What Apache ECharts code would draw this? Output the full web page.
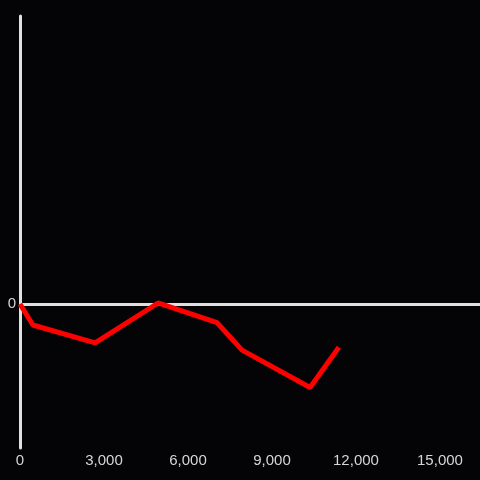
<!DOCTYPE html>
<html>
<head>
<meta charset="utf-8">
<script src="https://cdn.jsdelivr.net/npm/echarts@6/dist/echarts.min.js"></script>
<style>
  html, body { margin: 0; padding: 0; background: #040305; }
  #chart { width: 480px; height: 480px; }
</style>
</head>
<body>
<div id="chart"></div>
<script>
  // values
  var xValues = [0, 460, 2680, 4930, 7040, 7930, 10360, 11390];
  var yValues = [0, -0.146, -0.27, 0.007, -0.13, -0.32, -0.58, -0.30];

  var points = xValues.map(function (x, i) { return [x, yValues[i]]; });

  var chart = echarts.init(document.getElementById('chart'));
  chart.setOption({
    backgroundColor: '#040305',
    animation: false,
    grid: { left: 20, right: 0, top: 16, bottom: 32, containLabel: false },
    xAxis: {
      type: 'value',
      min: 0,
      max: 16430,
      interval: 3000,
      axisLine: { show: false },
      axisTick: { show: false },
      splitLine: { show: false },
      axisLabel: {
        color: '#d6d6d6',
        fontSize: 15,
        margin: 5,
        showMaxLabel: false,
        formatter: function (v) { return v.toLocaleString('en-US'); }
      }
    },
    yAxis: {
      type: 'value',
      min: -1,
      max: 2,
      interval: 1,
      axisLine: { show: true, lineStyle: { color: '#e0e0e0', width: 3 } },
      axisTick: { show: false },
      splitLine: { show: false },
      axisLabel: {
        color: '#d6d6d6',
        fontSize: 15,
        margin: 4,
        formatter: function (v) { return v === 0 ? '0' : ''; }
      }
    },
    series: [{
      type: 'line',
      data: points,
      symbol: 'none',
      lineStyle: { color: '#ff0000', width: 5 },
      markLine: {
        silent: true,
        symbol: 'none',
        label: { show: false },
        lineStyle: { color: '#e0e0e0', width: 3, type: 'solid' },
        data: [{ yAxis: 0 }],
        z: 1
      },
      z: 3
    }]
  });
</script>
</body>
</html>
